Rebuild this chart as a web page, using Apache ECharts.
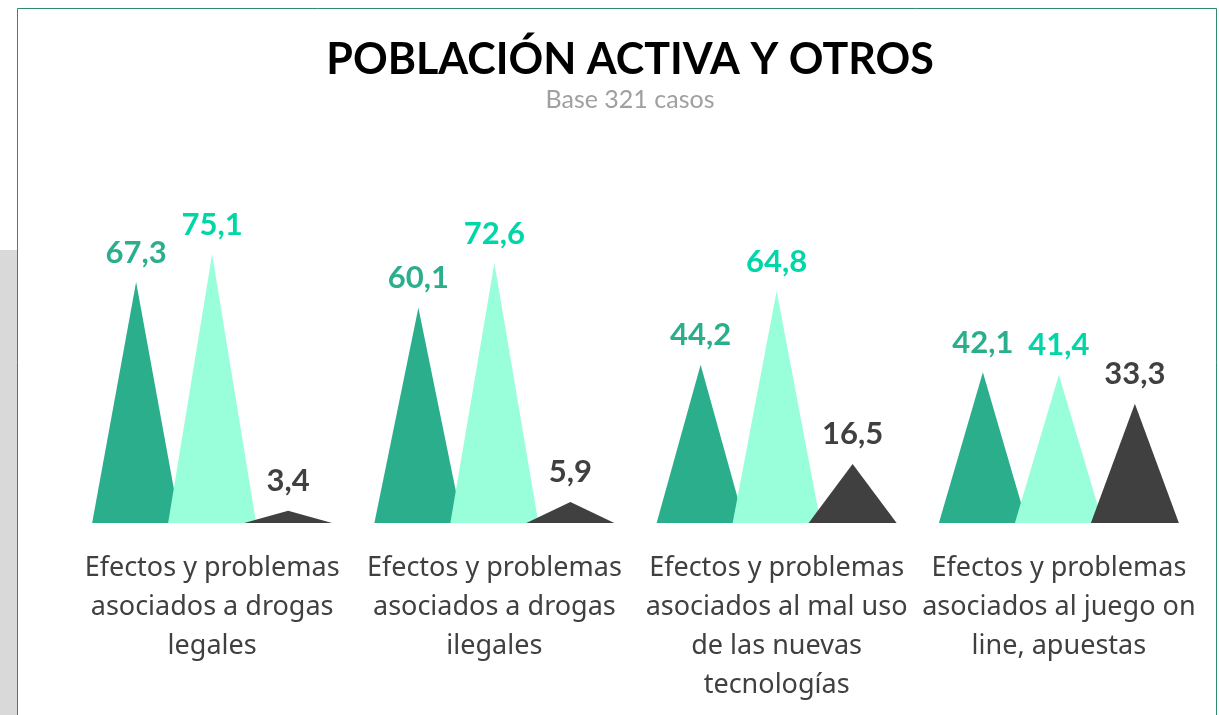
<!DOCTYPE html>
<html>
<head>
<meta charset="utf-8">
<script src="https://cdn.jsdelivr.net/npm/echarts@6/dist/echarts.min.js"></script>
<style>
  html, body { margin: 0; padding: 0; background: #fff; }
  #chart { width: 1219px; height: 715px; }
</style>
</head>
<body>
<div id="chart"></div>
<script>
  // categorías y valores (%)
  var categories = [
    'Efectos y problemas\nasociados a drogas\nlegales',
    'Efectos y problemas\nasociados a drogas\nilegales',
    'Efectos y problemas\nasociados al mal uso\nde las nuevas\ntecnologías',
    'Efectos y problemas\nasociados al juego on\nline, apuestas'
  ];
  var serie1 = [67.3, 60.1, 44.2, 42.1];
  var serie2 = [75.1, 72.6, 64.8, 41.4];
  var serie3 = [3.4, 5.9, 16.5, 33.3];

  var colores = ['#2bae8c', '#99ffdb', '#404040'];
  var coloresEtiqueta = ['#2bae8c', '#00d6a7', '#404040'];

  function fmt(p) {
    return p.value.toFixed(1).replace('.', ',');
  }

  function serie(datos, i) {
    return {
      type: 'pictorialBar',
      data: datos,
      symbol: 'triangle',
      symbolSize: [88, '100%'],
      barWidth: 76,
      barGap: '0%',
      itemStyle: { color: colores[i] },
      label: {
        show: true,
        position: 'top',
        distance: 14,
        formatter: fmt,
        color: coloresEtiqueta[i],
        fontFamily: 'Lato',
        fontWeight: 'bold',
        fontSize: 31
      }
    };
  }

  var myChart = echarts.init(document.getElementById('chart'));
  myChart.setOption({
    animation: false,
    graphic: [
      { type: 'rect', z: -10, shape: { x: 0, y: 250, width: 17, height: 465 }, style: { fill: '#d9d9d9' } },
      { type: 'rect', z: -9, shape: { x: 17.5, y: 8.5, width: 1199, height: 720 }, style: { fill: '#fff', stroke: '#2e8b6e', lineWidth: 1 } }
    ],
    title: {
      text: 'POBLACIÓN ACTIVA Y OTROS',
      subtext: 'Base 321 casos',
      left: 625,
      textAlign: 'center',
      top: 34,
      itemGap: 5,
      textStyle: { fontFamily: 'Lato', fontWeight: 'bold', fontSize: 43, color: '#000' },
      subtextStyle: { fontFamily: 'Lato', fontSize: 25, color: '#a0a0a0' }
    },
    grid: { left: 71, right: 19, top: 236.6, bottom: 192, containLabel: false },
    xAxis: {
      type: 'category',
      data: categories,
      axisLine: { show: false },
      axisTick: { show: false },
      axisLabel: {
        interval: 0,
        margin: 26,
        color: '#404040',
        fontFamily: 'Noto Sans',
        fontSize: 27,
        lineHeight: 39
      }
    },
    yAxis: {
      type: 'value',
      min: 0,
      max: 80,
      show: false,
      splitLine: { show: false }
    },
    series: [serie(serie1, 0), serie(serie2, 1), serie(serie3, 2)]
  });
</script>
</body>
</html>
